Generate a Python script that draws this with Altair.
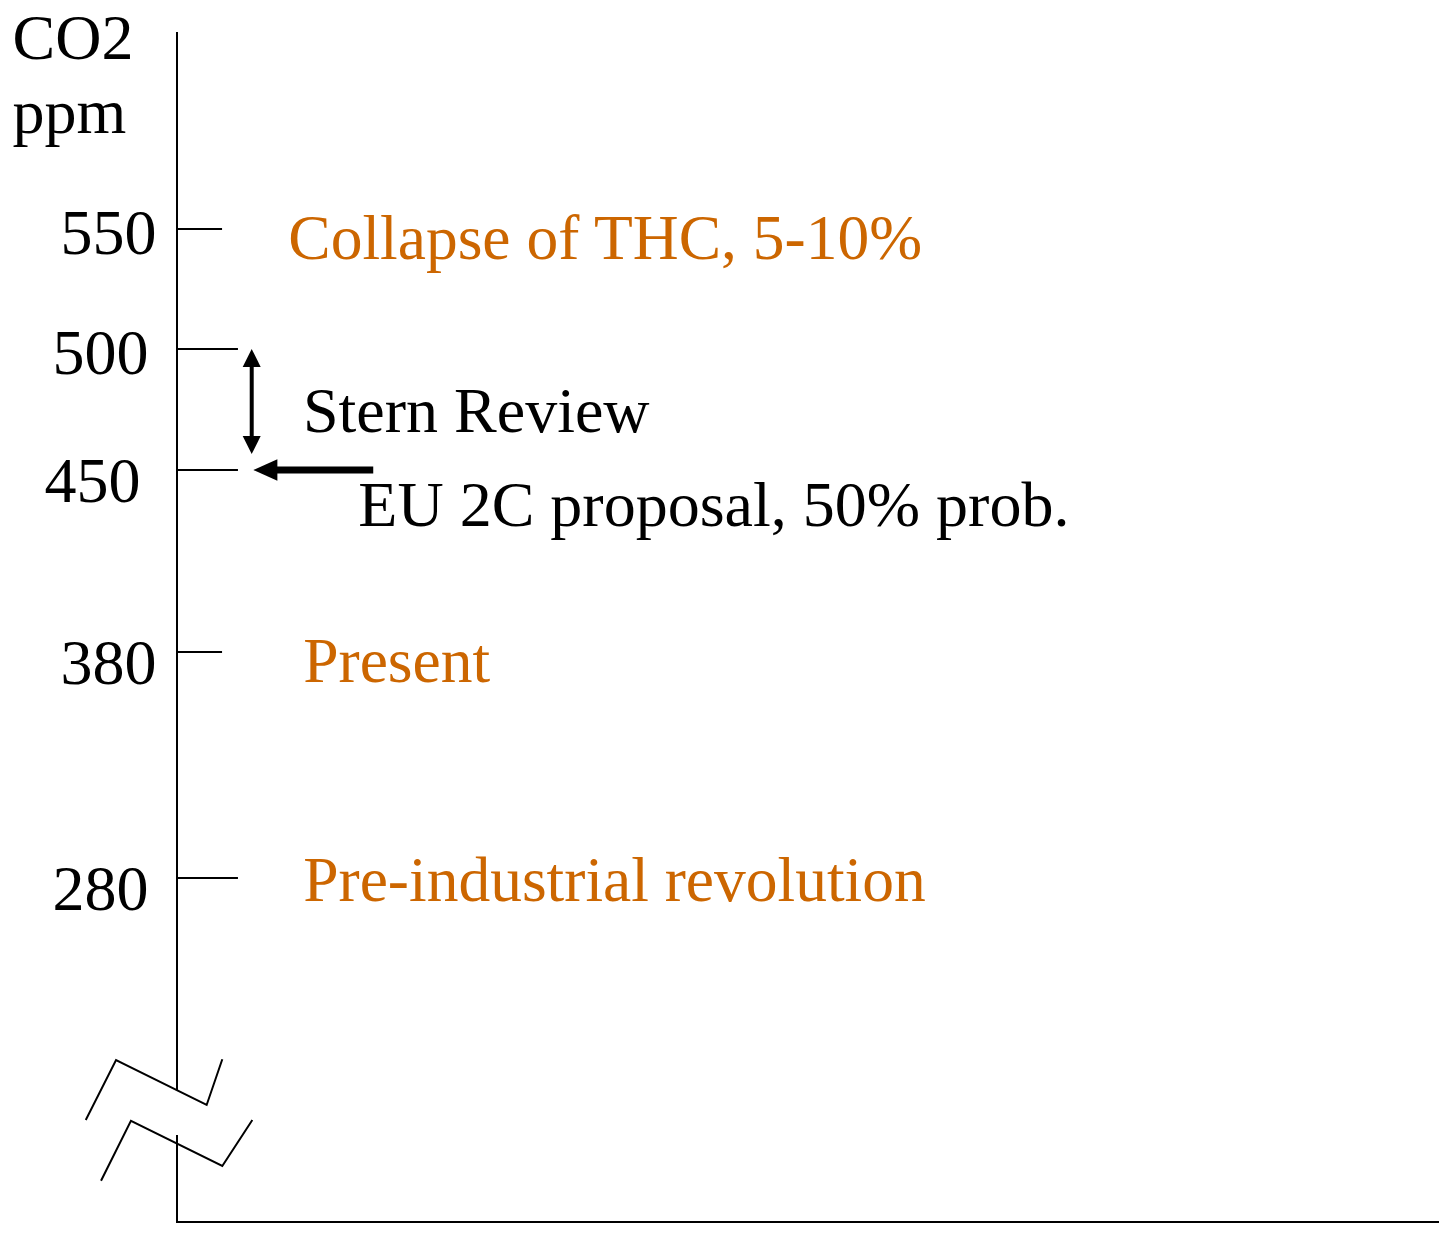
import altair as alt
import pandas as pd

# ---- data -------------------------------------------------------------
tick_values = [550, 500, 450, 380, 280]
short_ticks = [550, 380]
long_ticks = [500, 450, 280]

label_text = ["Collapse of THC, 5-10%", "Stern Review",
              "EU 2C proposal, 50% prob.", "Present",
              "Pre-industrial revolution"]
label_x = [8.82, 9.98, 14.37, 10.0, 10.0]
label_y = [537.5, 465.8, 428.3, 366.6, 261.3]
label_color = ["#CC6600", "#000000", "#000000", "#CC6600", "#CC6600"]

axis_from = [632, 71.4]      # broken y axis segments (ppm units)
axis_to = [107.9, 0]

zig_group = ["a", "a", "a", "a", "b", "b", "b", "b"]
zig_order = [0, 1, 2, 3, 0, 1, 2, 3]
zig_x = [-7.23, -4.83, 2.35, 3.59, -6.02, -3.65, 3.59, 5.97]
zig_y = [83.6, 132.3, 95.8, 132.9, 34.3, 83.0, 46.3, 83.6]

stern_x = 5.92
stern_top, stern_bottom = 500, 456.6
eu_y = 450
eu_tip_x, eu_end_x = 6.05, 15.55

SHORT_LEN, LONG_LEN = 3.57, 4.83
X_DOMAIN = [0, 100]
Y_DOMAIN = [0, 280, 380, 450, 500, 550, 632]
Y_RANGE = [1191, 846, 620, 438, 317, 197, 0]

FONT = "Liberation Serif"

xscale = alt.Scale(domain=X_DOMAIN, nice=False, zero=False)
yscale = alt.Scale(domain=Y_DOMAIN, range=Y_RANGE, nice=False, zero=False)

y_axis = alt.Axis(
    values=tick_values, format="d", domain=False, ticks=False, tickSize=0,
    grid=False, labelFont=FONT, labelFontSize=64, labelColor="black",
    labelAlign="right", labelBaseline="alphabetic",
    labelOffset={"condition": {"test": "datum.value >= 500", "value": 24},
                 "value": 31},
    labelPadding={"condition": [
        {"test": "datum.value == 450", "value": 37},
        {"test": "datum.value == 550 || datum.value == 380", "value": 21}],
        "value": 29},
    labelOverlap=False, labelFlush=False,
    title=["CO2", "ppm"], titleFont=FONT, titleFontSize=64,
    titleFontWeight="normal", titleColor="black", titleAngle=0,
    titleAlign="left", titleBaseline="alphabetic", titleX=-165, titleY=26,
    titleLineHeight=74,
)


def X(field):
    return alt.X(field, type="quantitative", scale=xscale, axis=None)


def Y(field):
    return alt.Y(field, type="quantitative", scale=yscale, axis=y_axis)


# ---- tables -----------------------------------------------------------
short_df = pd.DataFrame({"ppm": short_ticks, "x0": 0.0, "x1": SHORT_LEN})
long_df = pd.DataFrame({"ppm": long_ticks, "x0": 0.0, "x1": LONG_LEN})
axis_df = pd.DataFrame({"x": [0.0, 0.0], "ppm": axis_from, "y2": axis_to})
xaxis_df = pd.DataFrame({"x": [X_DOMAIN[0]], "x2": [X_DOMAIN[1]], "ppm": [0.0]})
zig_df = pd.DataFrame({"g": zig_group, "i": zig_order, "x": zig_x, "ppm": zig_y})
text_df = pd.DataFrame({"t": label_text, "x": label_x, "ppm": label_y,
                        "c": label_color})
stern_df = pd.DataFrame({"x": [stern_x], "ppm": [stern_top], "y2": [stern_bottom]})
stern_top_df = pd.DataFrame({"x": [stern_x], "ppm": [stern_top]})
stern_bot_df = pd.DataFrame({"x": [stern_x], "ppm": [stern_bottom]})
eu_df = pd.DataFrame({"x": [eu_tip_x], "x2": [eu_end_x], "ppm": [eu_y]})
eu_head_df = pd.DataFrame({"x": [eu_tip_x], "ppm": [eu_y]})

# ---- layers -----------------------------------------------------------
short_layer = alt.Chart(short_df).mark_rule(color="black", strokeWidth=2).encode(
    x=X("x0"), x2="x1:Q", y=Y("ppm"))
long_layer = alt.Chart(long_df).mark_rule(color="black", strokeWidth=2).encode(
    x=X("x0"), x2="x1:Q", y=Y("ppm"))
axis_layer = alt.Chart(axis_df).mark_rule(color="black", strokeWidth=2).encode(
    x=X("x"), y=Y("ppm"), y2="y2:Q")
xaxis_layer = alt.Chart(xaxis_df).mark_rule(
    color="black", strokeWidth=2, yOffset=-1).encode(
    x=X("x"), x2="x2:Q", y=Y("ppm"))
zig_layer = alt.Chart(zig_df).mark_line(color="black", strokeWidth=2).encode(
    x=X("x"), y=Y("ppm"), detail="g:N", order="i:Q")

black_text = alt.Chart(text_df).transform_filter(
    alt.datum.c == "#000000").mark_text(
    align="left", baseline="alphabetic", font=FONT, fontSize=64).encode(
    x=X("x"), y=Y("ppm"), text="t:N", color=alt.Color("c:N", scale=None))
orange_text = alt.Chart(text_df).transform_filter(
    alt.datum.c != "#000000").mark_text(
    align="left", baseline="alphabetic", font=FONT, fontSize=63.5).encode(
    x=X("x"), y=Y("ppm"), text="t:N", color=alt.Color("c:N", scale=None))

stern_shaft = alt.Chart(stern_df).mark_rule(
    color="black", strokeWidth=4, yOffset=10, y2Offset=-10).encode(
    x=X("x"), y=Y("ppm"), y2="y2:Q")
stern_up = alt.Chart(stern_top_df).mark_point(
    shape="M0,-1L1,1L-1,1Z", filled=True, size=324, color="black",
    opacity=1, yOffset=9).encode(x=X("x"), y=Y("ppm"))
stern_down = alt.Chart(stern_bot_df).mark_point(
    shape="M0,1L1,-1L-1,-1Z", filled=True, size=324, color="black",
    opacity=1, yOffset=-9).encode(x=X("x"), y=Y("ppm"))

eu_shaft = alt.Chart(eu_df).mark_rule(
    color="black", strokeWidth=7, xOffset=15).encode(
    x=X("x"), x2="x2:Q", y=Y("ppm"))
eu_head = alt.Chart(eu_head_df).mark_point(
    shape="M-1,0L1,-0.9L1,0.9Z", filled=True, size=576, color="black",
    opacity=1, xOffset=12).encode(x=X("x"), y=Y("ppm"))

chart = alt.layer(
    short_layer, long_layer, axis_layer, xaxis_layer, zig_layer,
    black_text, orange_text,
    stern_shaft, stern_up, stern_down, eu_shaft, eu_head,
).properties(
    width=1262, height=1191,
    autosize=alt.AutoSizeParams(type="none"),
    padding={"left": 169, "top": 24, "right": 0, "bottom": 0},
    background="white",
).configure_view(stroke=None)

chart.save("out.html", embed_options={"renderer": "svg", "actions": False})
